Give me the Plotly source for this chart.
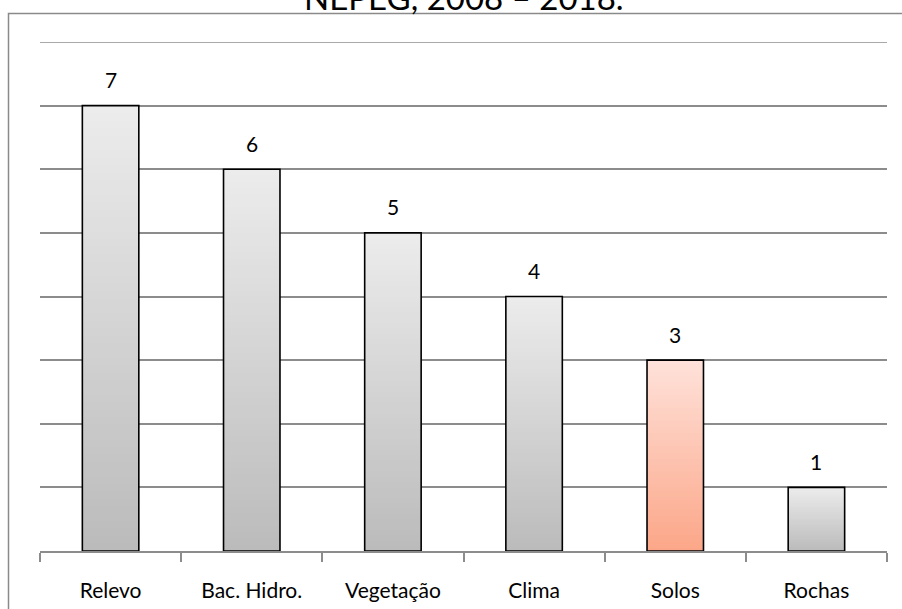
import plotly.graph_objects as go

# Data
categories = ["Relevo", "Bac. Hidro.", "Vegetação", "Clima", "Solos", "Rochas"]
values = [7, 6, 5, 4, 3, 1]
highlight = "Solos"
title_text = "NEPEG, 2008 – 2018."
y_max = 8

# Gradient endpoints (top colour, bottom colour)
grey_top, grey_bottom = (236, 236, 236), (187, 187, 187)
salmon_top, salmon_bottom = (254, 226, 218), (252, 166, 136)

W, H = 902, 609
ML, MR, MT, MB = 40, 15, 42, 58
pw, ph = W - ML - MR, H - MT - MB

N_SLICES = 60
BAR_W = 0.4
FONT = "Lato, Open Sans, sans-serif"
GRID = "#8c8c8c"


def mix(c1, c2, t):
    return "rgb(%d,%d,%d)" % tuple(round(a + (b - a) * t) for a, b in zip(c1, c2))


fig = go.Figure()

# Each bar is built from stacked, slightly overlapping slices so it shades
# from light (top) to dark (bottom) without visible seams
for k in range(N_SLICES):
    t = 1 - (k + 0.5) / N_SLICES  # 1 at bottom, 0 at top
    colors = []
    for c in categories:
        top, bot = (salmon_top, salmon_bottom) if c == highlight else (grey_top, grey_bottom)
        colors.append(mix(top, bot, t))
    frac = min(2.0, N_SLICES - k) / N_SLICES
    fig.add_trace(go.Bar(
        x=categories,
        y=[v * frac for v in values],
        base=[v * k / N_SLICES for v in values],
        width=BAR_W,
        marker=dict(color=colors, line=dict(width=0)),
        hoverinfo="skip",
        showlegend=False,
    ))

# Outline of each bar
fig.add_trace(go.Bar(
    x=categories,
    y=values,
    width=BAR_W,
    marker=dict(color="rgba(0,0,0,0)", line=dict(color="black", width=1.6)),
    hoverinfo="skip",
    showlegend=False,
))

# Value labels above the bars
annotations = [
    dict(x=c, y=v, xref="x", yref="y", text=str(v), showarrow=False,
         yshift=26, font=dict(family=FONT, size=21, color="black"))
    for c, v in zip(categories, values)
]
annotations.append(dict(
    text=title_text,
    xref="paper", yref="paper",
    x=(464 - ML) / pw, y=1 + (MT + 3) / ph,
    xanchor="center", yanchor="middle",
    showarrow=False,
    font=dict(family=FONT, size=33, color="black"),
))

fig.update_layout(
    width=W, height=H,
    margin=dict(l=ML, r=MR, t=MT, b=MB, autoexpand=False),
    paper_bgcolor="white",
    plot_bgcolor="white",
    barmode="overlay",
    font=dict(family=FONT, size=21, color="black"),
    xaxis=dict(
        type="category",
        automargin=False,
        showgrid=False,
        showline=True,
        linecolor=GRID,
        linewidth=1.5,
        ticks="outside",
        tickson="boundaries",
        ticklen=9,
        tickwidth=1.5,
        tickcolor=GRID,
        tickfont=dict(family=FONT, size=21),
        ticklabelstandoff=20,
        fixedrange=True,
    ),
    yaxis=dict(
        range=[0, y_max],
        automargin=False,
        dtick=1,
        showgrid=True,
        gridcolor=GRID,
        gridwidth=1.5,
        showticklabels=False,
        zeroline=False,
        showline=False,
        ticks="",
        fixedrange=True,
    ),
    shapes=[
        # chart frame
        dict(
            type="rect", xref="paper", yref="paper",
            x0=(8.5 - ML) / pw, x1=1 + 40 / pw,
            y0=-80 / ph, y1=1 + (MT - 13.5) / ph,
            line=dict(color="#8a8a8a", width=1.5),
            fillcolor="rgba(0,0,0,0)",
            layer="below",
        ),
        # gridline at the top of the value range
        dict(
            type="line", xref="paper", yref="y",
            x0=0, x1=1, y0=y_max, y1=y_max,
            line=dict(color=GRID, width=1.5),
            layer="below",
        ),
    ],
    annotations=annotations,
)

fig.write_html("out.html")
